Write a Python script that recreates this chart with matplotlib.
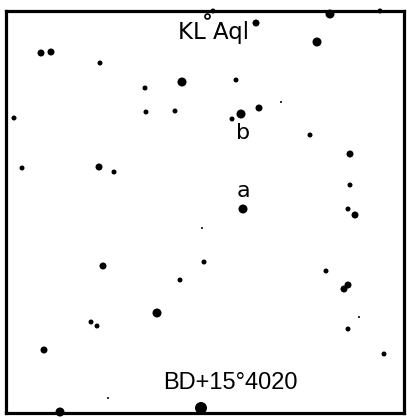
import matplotlib
matplotlib.use("Agg")
import matplotlib.pyplot as plt

# star positions on the chart (chart pixels, y downward) and size class
# class 1 = brightest ... class 5 = faintest
star_x = [213, 256, 330, 380, 317, 41, 51, 100, 182, 145, 236, 146, 175,
          14, 232, 241, 259, 281, 310, 350, 22, 99, 114, 350, 243, 348,
          355, 204, 202, 103, 180, 326, 348, 344, 157, 91, 97, 348, 384,
          44, 60, 201, 108, 359]
star_y = [11, 23, 14, 11, 42, 53, 52, 63, 82, 88, 80, 112, 111,
          118, 119, 114, 108, 102, 135, 154, 168, 167, 172, 185, 209, 209,
          215, 262, 228, 266, 280, 271, 285, 289, 313, 322, 326, 329, 354,
          350, 412, 408, 398, 317]
star_cls = [4, 3, 2, 4, 2, 3, 3, 4, 2, 4, 4, 4, 4,
            4, 4, 2, 3, 5, 4, 3, 4, 3, 4, 4, 2, 4,
            3, 4, 5, 3, 4, 4, 3, 3, 2, 4, 4, 4, 4,
            3, 2, 1, 5, 5]

# the variable star (open circle)
var_x = [207]
var_y = [16]

labels = ["KL Aql", "b", "a", "BD+15\u00b04020"]
label_x = [213, 243, 243, 230]
label_y = [32, 133, 191, 383]

diam_px = {1: 12, 2: 9, 3: 7, 4: 5, 5: 2}

W, H = 407, 418
fig = plt.figure(figsize=(W / 100, H / 100), dpi=100)
# frame of the chart
x0, x1, y0, y1 = 6, 404, 11, 413
ax = fig.add_axes([x0 / W, 1 - y1 / H, (x1 - x0) / W, (y1 - y0) / H])
ax.set_xlim(x0, x1)
ax.set_ylim(y1, y0)
ax.set_xticks([])
ax.set_yticks([])
for sp in ax.spines.values():
    sp.set_linewidth(2.3)
    sp.set_color("black")

# px -> points^2 for scatter
sizes = [(diam_px[c] * 0.72) ** 2 for c in star_cls]
ax.scatter(star_x, star_y, s=sizes, c="black", linewidths=0, clip_on=False, zorder=3)
ax.scatter(var_x, var_y, s=(5 * 0.72) ** 2, facecolors="white", edgecolors="black",
           linewidths=1.2, clip_on=False, zorder=4)

fs = [16.5, 16, 16, 17]
fams = ["DejaVu Sans", "DejaVu Sans", "DejaVu Sans", "Liberation Sans"]
for t, x, y, f, fam in zip(labels, label_x, label_y, fs, fams):
    ax.text(x, y, t, ha="center", va="center", fontsize=f, family=fam, color="black")

fig.savefig("out.png", dpi=100)
